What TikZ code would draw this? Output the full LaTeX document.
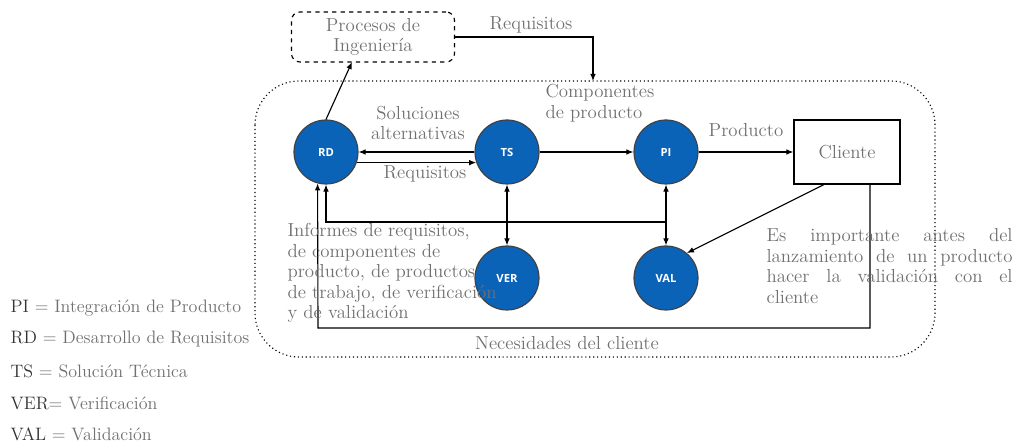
\documentclass[tikz,border=0pt]{standalone}
\usepackage{fontspec}
\newfontfamily\circfont{Open Sans}
\usetikzlibrary{arrows.meta}

\definecolor{procblue}{HTML}{0B63B8}
\definecolor{txtgray}{HTML}{707070}

\tikzset{
	proc/.style={circle, draw=black!75, fill=procblue, minimum size=1.6cm, inner sep=0pt, text=white, font=\circfont\bfseries\fontsize{8}{9}\selectfont},
	lbl/.style={text=txtgray, font=\fontsize{13.4}{14.6}\selectfont, align=center, inner sep=0pt},
	leg/.style={text=txtgray, font=\fontsize{12.8}{15}\selectfont, anchor=west, inner sep=0pt},
	>={Latex[length=5pt,width=4pt]}
}

\begin{document}
\begin{tikzpicture}[x=0.025cm, y=-0.025cm, line width=0.8pt]
					\useasboundingbox (0,0) rectangle (1014,444);
					% outer frame
					\draw[dotted, rounded corners=1.1cm] (255,81) rectangle (935,357);
					\node[draw, dashed, rounded corners=6pt, minimum width=4.075cm, minimum height=1.25cm, lbl, inner sep=2pt] (ing) at (373,37) {Procesos de\\Ingeniería};
					\node[draw, minimum width=2.65cm, minimum height=1.6cm, lbl] (cli) at (847,152) {Cliente};
					\node[proc] (RD) at (326,152) {RD};
					\node[proc] (TS) at (507,152) {TS};
					\node[proc] (PI) at (666,152) {PI};
					\node[proc] (VER) at (507,278) {VER};
					\node[proc] (VAL) at (666,278) {VAL};
					\coordinate (comp) at (593,81);
					\coordinate (ingin) at (352,62);
					\coordinate (fb) at (666,222);
					\coordinate (nec) at (318,328);
					% connectors
					\draw[->] (ing.east) -| (comp);
					\draw[->] (RD.north) -- (ingin);
					\draw[->] (TS.west) -- (RD.east);
					\draw[->] (RD.-19) -- (TS.199);
					\draw[->] (TS.east) -- (PI.west);
					\draw[->] (PI.east) -- (cli.west);
					\draw[<->] (TS.south) -- (VER.north);
					\draw[<->] (PI.south) -- (VAL.north);
					\draw[->] (fb) -| (RD.south);
					\draw[->] ([xshift=-0.575cm]cli.south) -- (VAL.50);
					\draw[->] ([xshift=0.575cm]cli.south) |- (nec) -- (RD.-105);
					% labels
					\node[lbl] (lreq) at (531,25) {Requisitos};
					\node[lbl] (lsol) at (418,123) {Soluciones\\alternativas};
					\node[lbl] (lreq2) at (425,174) {Requisitos};
					\node[lbl, anchor=west, align=left] (lcomp) at (545,103) {Componentes\\de producto};
					\node[lbl] (lprod) at (746,130) {Producto};
					\node[lbl] (lnec) at (567,343) {Necesidades del cliente};
					\node[lbl, anchor=north west, align=left] (linf) at (287,223) {Informes de requisitos,\\de componentes de\\producto, de productos\\de trabajo, de verificación\\y de validación};
					\node[lbl, anchor=north west, align=left] (limp) at (766,228) {%
						\makebox[6.15cm][s]{Es importante antes del}\\
						\makebox[6.15cm][s]{lanzamiento de un producto}\\
						\makebox[6.15cm][s]{hacer la validación con el}\\
						cliente};
					% legend
					\node[leg] (kpi) at (10,308) {\textcolor{black!80}{PI} = Integración de Producto};
					\node[leg] (krd) at (10,339) {\textcolor{black!80}{RD} = Desarrollo de Requisitos};
					\node[leg] (kts) at (10,371) {\textcolor{black!80}{TS} = Solución Técnica};
					\node[leg] (kver) at (10,403) {\textcolor{black!80}{VER}= Verificación};
					\node[leg] (kval) at (10,434) {\textcolor{black!80}{VAL} = Validación};
				\end{tikzpicture}
\end{document}
